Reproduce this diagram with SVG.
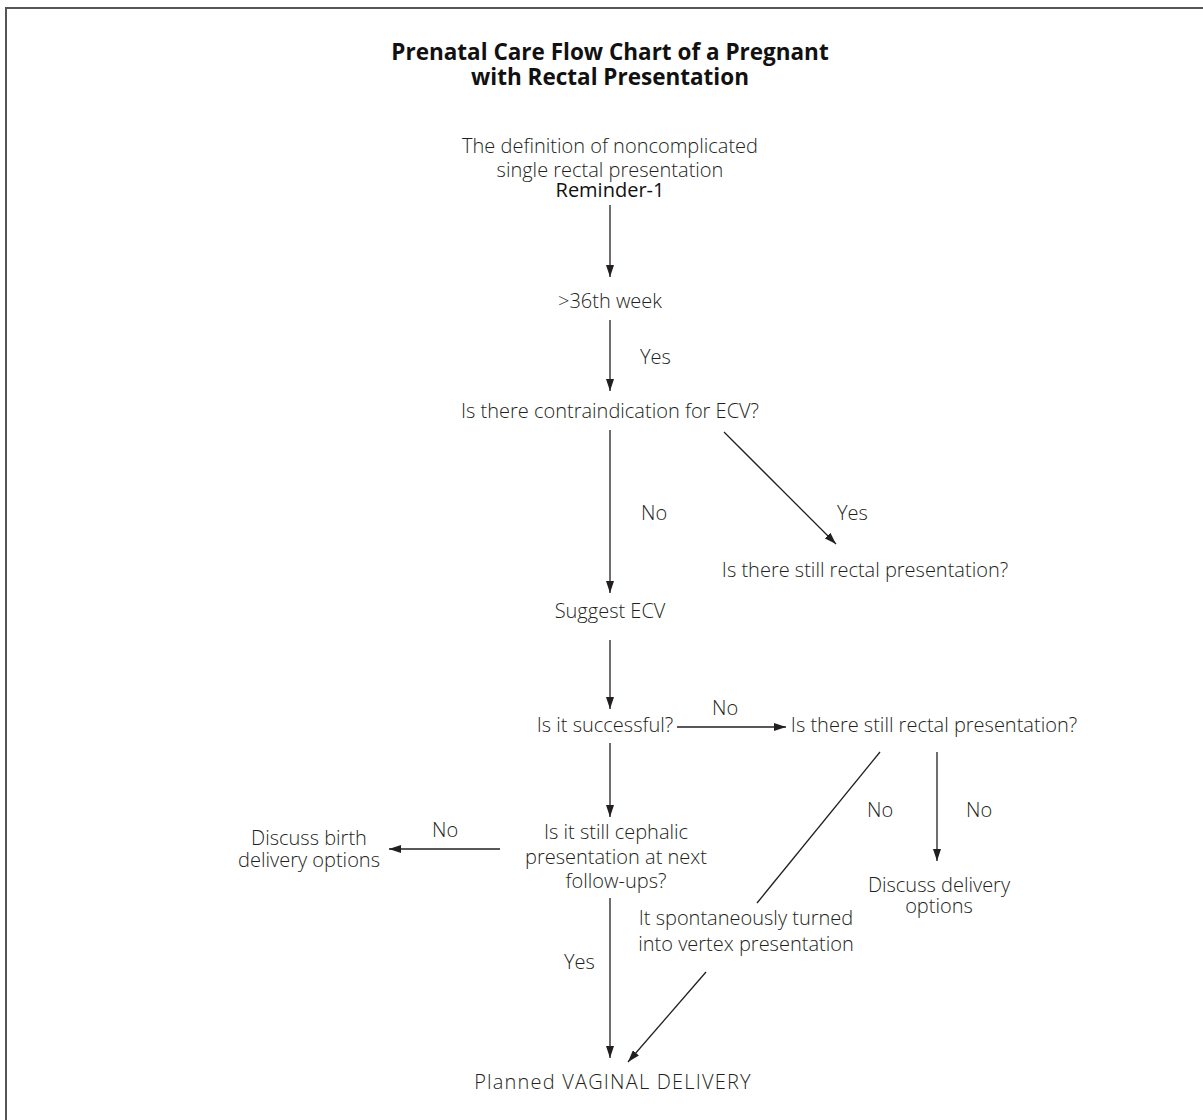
<svg xmlns="http://www.w3.org/2000/svg" width="1203" height="1120" viewBox="0 0 1203 1120">
<style>
text{font-family:"Open Sans","Noto Sans","Liberation Sans",sans-serif;font-size:20px;fill:#231f20;text-anchor:middle;font-weight:300}
.t{font-weight:700;font-size:22.5px;fill:#111}
.b{font-weight:400;fill:#111}
.s{text-anchor:start}
.w{letter-spacing:1.2px}
.c line{stroke:#231f20;stroke-width:1.3}
</style>
<defs>
<marker id="a" viewBox="0 0 12 8" refX="12" refY="4" markerWidth="12" markerHeight="8" markerUnits="userSpaceOnUse" orient="auto">
<path d="M0,0 L12,4 L0,8 z" fill="#231f20"/>
</marker>
</defs>
<rect width="1203" height="1120" fill="#fff"/>
<path d="M6,1120 V8 H1203" fill="none" stroke="#555" stroke-width="2"/>
<g id="title">
<text class="t" x="610" y="60">Prenatal Care Flow Chart of a Pregnant</text>
<text class="t" x="610" y="85">with Rectal Presentation</text>
</g>
<g id="n1">
<text x="610" y="153">The definition of noncomplicated</text>
<text x="610" y="177">single rectal presentation</text>
<text class="b" x="610" y="197">Reminder-1</text>
</g>
<g id="n2"><text x="610" y="308">&gt;36th week</text></g>
<g id="n3"><text x="610" y="418">Is there contraindication for ECV?</text></g>
<g id="n4"><text x="865" y="577">Is there still rectal presentation?</text></g>
<g id="n5"><text x="610" y="618">Suggest ECV</text></g>
<g id="n6"><text x="605" y="732">Is it successful?</text></g>
<g id="n7"><text x="934" y="732">Is there still rectal presentation?</text></g>
<g id="n8">
<text x="616" y="839">Is it still cephalic</text>
<text x="616" y="864">presentation at next</text>
<text x="616" y="888">follow-ups?</text>
</g>
<g id="n9">
<text x="309" y="845">Discuss birth</text>
<text x="309" y="867">delivery options</text>
</g>
<g id="n10">
<text x="939" y="892">Discuss delivery</text>
<text x="939" y="913">options</text>
</g>
<g id="n11">
<text x="746" y="925">It spontaneously turned</text>
<text x="746" y="951">into vertex presentation</text>
</g>
<g id="n12"><text class="w" x="613" y="1089">Planned VAGINAL DELIVERY</text></g>
<g id="connectors" class="c">
<line x1="610" y1="205" x2="610" y2="277" marker-end="url(#a)"/>
<line x1="610" y1="320" x2="610" y2="391" marker-end="url(#a)"/>
<line x1="610" y1="430" x2="610" y2="593" marker-end="url(#a)"/>
<line x1="724" y1="432" x2="836" y2="544" marker-end="url(#a)"/>
<line x1="610" y1="640" x2="610" y2="709" marker-end="url(#a)"/>
<line x1="677" y1="727" x2="786" y2="727" marker-end="url(#a)"/>
<line x1="610" y1="743" x2="610" y2="817" marker-end="url(#a)"/>
<line x1="500" y1="849" x2="389" y2="849" marker-end="url(#a)"/>
<line x1="610" y1="898" x2="610" y2="1058" marker-end="url(#a)"/>
<line x1="880" y1="752" x2="757" y2="903"/>
<line x1="706" y1="972" x2="628" y2="1062" marker-end="url(#a)"/>
<line x1="937" y1="752" x2="937" y2="861" marker-end="url(#a)"/>
</g>
<g id="labels">
<text class="s" x="640" y="364">Yes</text>
<text class="s" x="641" y="520">No</text>
<text class="s" x="837" y="520">Yes</text>
<text class="s" x="712" y="715">No</text>
<text class="s" x="432" y="837">No</text>
<text class="s" x="564" y="969">Yes</text>
<text class="s" x="867" y="817">No</text>
<text class="s" x="966" y="817">No</text>
</g>
</svg>
